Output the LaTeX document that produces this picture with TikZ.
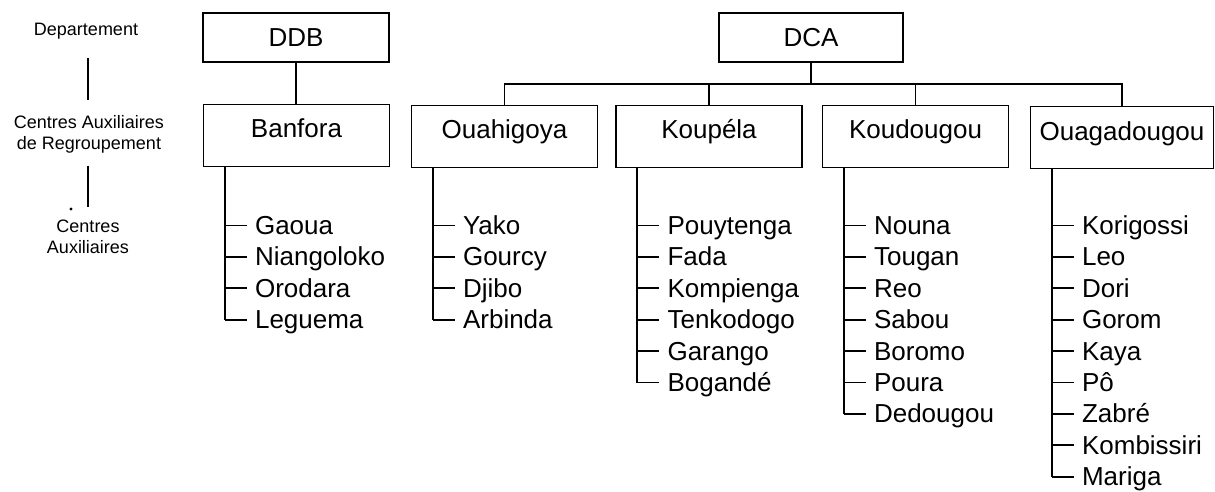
\documentclass[tikz,border=0pt]{standalone}
\usepackage{fontspec}
\setmainfont{Liberation Sans}
\usetikzlibrary{calc}

% vertical list of centres hanging from a box:
% #1 box name, #2 prefix for the item nodes, #3 the items
\newcommand\hanglist[3]{%
  \coordinate (#2T) at ([xshift=22pt]#1.south west);
  \foreach \nm [count=\k] in {#3} {%
    \pgfmathsetmacro\yy{225.5+31.4*(\k-1)}
    \node[item, xshift=30pt] (#2\k) at (#2T |- 0,\yy) {\nm};
    \draw[conn] (#2T |- #2\k.west) -- ([xshift=-8pt]#2\k.west);
    \xdef\lastitem{\k}
  }
  \draw[conn] (#2T) -- (#2T |- #2\lastitem.west);
}

\begin{document}
\begin{tikzpicture}[x=1pt, y=-1pt,
  conn/.style={line width=1.8pt},
  guide/.style={line width=1.5pt},
  topbox/.style={draw, line width=1.3pt, minimum width=186pt, minimum height=49pt,
    inner sep=0pt, font=\fontsize{26}{30}\selectfont, text height=18pt, text depth=0pt},
  carbox/.style={draw, line width=1.3pt, minimum width=186pt, minimum height=62pt,
    inner sep=0pt, font=\fontsize{26}{30}\selectfont, text height=14.5pt, text depth=9.5pt},
  item/.style={anchor=west, inner sep=0pt, font=\fontsize{26}{30}\selectfont,
    text height=18pt, text depth=0pt},
  side/.style={inner sep=0pt, align=center, font=\fontsize{18}{21}\selectfont}
]
\useasboundingbox (0,0) rectangle (1215,492);

% level legend on the left
\node[side] (dep) at (86,31) {Departement};
\node[side] (car) at (89,134.5) {Centres Auxiliaires\\de Regroupement};
\node[side] (ca)  at (88,237) {Centres\\Auxiliaires};
\draw[guide, shorten <=19pt, shorten >=15pt] (dep.south -| 88,0) -- (car.north -| 88,0);
\draw[guide, shorten <=12pt, shorten >=13pt] (car.south -| 88,0) -- (ca.north -| 88,0);
\fill (71,209) circle (1.6pt);

% departements
\node[topbox] (ddb) at (296,37.5) {DDB};
\node[topbox, minimum width=184pt] (dca) at (811,37.5) {DCA};

% centres auxiliaires de regroupement
\node[carbox] (ban) at (296.5,135.5) {Banfora};
\node[carbox] (oua) at (504.5,136.5) {Ouahigoya};
\node[carbox] (kpl) at (709,136.5) {Koupéla};
\node[carbox] (kdg) at (915.5,136.5) {Koudougou};
\node[carbox, minimum width=183pt] (oga) at (1122,137.5) {Ouagadougou};

% tree links
\draw[conn] (ddb.south) -- (ddb.south |- ban.north);
\draw[conn] (dca.south) -- ++(0,21) coordinate (bus);
\draw[conn] (oua.north) |- (bus) -| (oga.north);
\draw[conn] (kpl.north) -- (kpl.north |- bus);
\draw[conn] (kdg.north) -- (kdg.north |- bus);

% centres auxiliaires
\hanglist{ban}{b}{Gaoua,Niangoloko,Orodara,Leguema}
\hanglist{oua}{o}{Yako,Gourcy,Djibo,Arbinda}
\hanglist{kpl}{p}{Pouytenga,Fada,Kompienga,Tenkodogo,Garango,Bogandé}
\hanglist{kdg}{d}{Nouna,Tougan,Reo,Sabou,Boromo,Poura,Dedougou}
\hanglist{oga}{g}{Korigossi,Leo,Dori,Gorom,Kaya,Pô,Zabré,Kombissiri,Mariga}
\end{tikzpicture}
\end{document}
